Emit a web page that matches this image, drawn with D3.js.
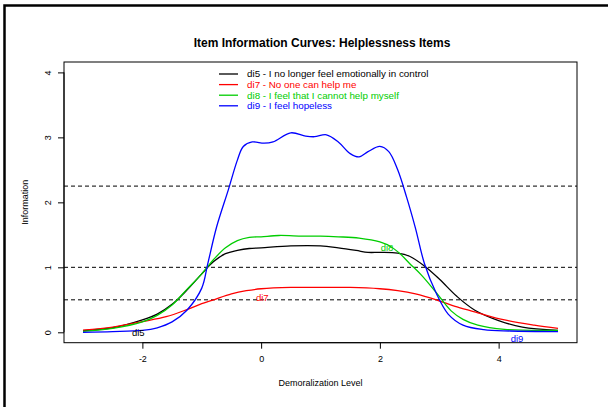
<!DOCTYPE html>
<html>
<head>
<meta charset="utf-8">
<script src="https://cdn.jsdelivr.net/npm/d3@7"></script>
<style>
  body { margin: 0; background: #fff; }
  svg { display: block; font-family: "Liberation Sans", Arial, sans-serif; }
</style>
</head>
<body>
<div id="chart"></div>
<script>
// theta / information pairs
const di5Theta = [-3, -2.5, -2, -1.75, -1.5, -1.25, -1.0, -0.8, -0.6, -0.4, -0.2, 0, 0.5, 1.0, 1.3, 1.6, 1.8, 2.0, 2.3, 2.5, 2.75, 3.0, 3.3, 3.6, 4.0, 4.4, 5];
const di5Info  = [0.025, 0.07, 0.19, 0.28, 0.43, 0.65, 0.9, 1.09, 1.21, 1.26, 1.29, 1.30, 1.33, 1.33, 1.30, 1.26, 1.23, 1.23, 1.22, 1.17, 1.02, 0.82, 0.55, 0.34, 0.18, 0.08, 0.03];

const di7Theta = [-3, -2.5, -2, -1.6, -1.25, -1.0, -0.8, -0.5, -0.25, 0, 0.5, 1.0, 1.5, 2.0, 2.3, 2.6, 2.95, 3.3, 3.65, 4.1, 4.6, 5];
const di7Info  = [0.035, 0.08, 0.165, 0.24, 0.35, 0.44, 0.5, 0.59, 0.64, 0.67, 0.69, 0.69, 0.69, 0.67, 0.64, 0.59, 0.5, 0.39, 0.3, 0.19, 0.11, 0.06];

const di8Theta = [-3, -2.5, -2, -1.75, -1.5, -1.25, -1.0, -0.8, -0.6, -0.4, -0.2, 0, 0.3, 0.7, 1.0, 1.3, 1.65, 2.0, 2.2, 2.35, 2.5, 2.7, 2.95, 3.2, 3.4, 3.65, 4.1, 5];
const di8Info  = [0.015, 0.06, 0.16, 0.26, 0.42, 0.66, 0.9, 1.12, 1.3, 1.41, 1.46, 1.47, 1.49, 1.48, 1.48, 1.47, 1.45, 1.39, 1.31, 1.20, 1.06, 0.88, 0.61, 0.33, 0.2, 0.11, 0.045, 0.03];

const di9Theta = [-3, -2.5, -2, -1.75, -1.5, -1.25, -1.0, -0.9, -0.75, -0.55, -0.4, -0.3, -0.15, 0.05, 0.2, 0.5, 0.75, 0.9, 1.1, 1.3, 1.5, 1.65, 1.8, 2.0, 2.15, 2.3, 2.45, 2.6, 2.75, 2.95, 3.15, 3.4, 3.75, 4.2, 5];
const di9Info  = [0.0, 0.01, 0.03, 0.07, 0.16, 0.34, 0.68, 1.05, 1.62, 2.2, 2.65, 2.86, 2.93, 2.91, 2.93, 3.07, 3.02, 3.01, 3.04, 2.93, 2.75, 2.70, 2.78, 2.86, 2.78, 2.5, 2.08, 1.6, 1.06, 0.6, 0.28, 0.11, 0.04, 0.02, 0.01];

const itemNames = ["di5", "di7", "di8", "di9"];
const legendLabels = [
  "di5 - I no longer feel emotionally in control",
  "di7 - No one can help me",
  "di8 - I feel that I cannot help myself",
  "di9 - I feel hopeless"
];
const itemColors = ["#000000", "#FF0000", "#00CD00", "#0000FF"];
// where each short curve label sits (theta, information)
const labelTheta = [-2.07, 0.02, 2.12, 4.31];
const labelInfo  = [0.0, 0.53, 1.30, -0.10];

const cutoffs = [0.5, 1, 2.25];
const xTicks = [-2, 0, 2, 4];
const yTicks = [0, 1, 2, 3, 4];

const W = 608, H = 407;
const plot = { left: 64, right: 577, top: 62, bottom: 342.7 };

const series = [
  d3.zip(di5Theta, di5Info),
  d3.zip(di7Theta, di7Info),
  d3.zip(di8Theta, di8Info),
  d3.zip(di9Theta, di9Info)
];

const svg = d3.select("#chart").append("svg")
    .attr("width", W)
    .attr("height", H);

svg.append("rect").attr("width", W).attr("height", H).attr("fill", "#fff");

// outer frame (only top & left show in the picture)
svg.append("path")
    .attr("d", `M4.5,${H} V5.5 H${W}`)
    .attr("fill", "none")
    .attr("stroke", "#000")
    .attr("stroke-width", 2.5);

// R style 4% padding on both axes
const x = d3.scaleLinear().domain([-3 - 0.32, 5 + 0.32]).range([plot.left, plot.right]);
const y = d3.scaleLinear().domain([-0.16, 4.16]).range([plot.bottom, plot.top]);

// cutoff lines
svg.selectAll(".cut")
    .data(cutoffs)
    .join("line")
    .attr("class", "cut")
    .attr("x1", plot.left).attr("x2", plot.right)
    .attr("y1", d => y(d)).attr("y2", d => y(d))
    .attr("stroke", "#000")
    .attr("stroke-width", 1)
    .attr("stroke-dasharray", "4,3");

const line = d3.line()
    .x(d => x(d[0]))
    .y(d => y(d[1]))
    .curve(d3.curveCatmullRom.alpha(0.5));

svg.selectAll(".curve")
    .data(series)
    .join("path")
    .attr("class", "curve")
    .attr("d", line)
    .attr("fill", "none")
    .attr("stroke", (d, i) => itemColors[i])
    .attr("stroke-width", 1.3);

// curve labels
svg.selectAll(".clab")
    .data(itemNames)
    .join("text")
    .attr("class", "clab")
    .attr("x", (d, i) => x(labelTheta[i]))
    .attr("y", (d, i) => y(labelInfo[i]))
    .attr("dy", "0.35em")
    .attr("text-anchor", "middle")
    .attr("font-size", 9.5)
    .attr("fill", (d, i) => itemColors[i])
    .text(d => d);

// box
svg.append("rect")
    .attr("x", plot.left).attr("y", plot.top)
    .attr("width", plot.right - plot.left)
    .attr("height", plot.bottom - plot.top)
    .attr("fill", "none")
    .attr("stroke", "#000")
    .attr("stroke-width", 1);

// x axis
const xAxis = svg.append("g")
    .attr("transform", `translate(0,${plot.bottom})`)
    .call(d3.axisBottom(x).tickValues(xTicks).tickSize(6).tickPadding(7).tickFormat(d => String(d)));
xAxis.select(".domain").attr("d", `M${x(-2)},0H${x(4)}`);
xAxis.selectAll("text").attr("font-size", 9).attr("font-family", "Liberation Sans, Arial, sans-serif");

// y axis, rotated labels like R
const yAxis = svg.append("g")
    .attr("transform", `translate(${plot.left},0)`)
    .call(d3.axisLeft(y).tickValues(yTicks).tickSize(6).tickFormat(d => String(d)));
yAxis.select(".domain").attr("d", `M0,${y(0)}V${y(4)}`);
yAxis.selectAll("text")
    .attr("x", 0).attr("dy", 0)
    .attr("text-anchor", "middle")
    .attr("font-size", 9)
    .attr("font-family", "Liberation Sans, Arial, sans-serif")
    .attr("transform", "translate(-13,0) rotate(-90)");

// title and axis titles
svg.append("text")
    .attr("x", 322).attr("y", 47)
    .attr("text-anchor", "middle")
    .attr("font-size", 12)
    .attr("font-weight", "bold")
    .text("Item Information Curves: Helplessness Items");

svg.append("text")
    .attr("x", (plot.left + plot.right) / 2).attr("y", 386)
    .attr("text-anchor", "middle")
    .attr("font-size", 9)
    .text("Demoralization Level");

svg.append("text")
    .attr("transform", `translate(28,${(plot.top + plot.bottom) / 2}) rotate(-90)`)
    .attr("text-anchor", "middle")
    .attr("font-size", 9)
    .text("Information");

// legend
const legend = svg.append("g").attr("transform", "translate(219,74)");
const rows = legend.selectAll("g")
    .data(legendLabels)
    .join("g")
    .attr("transform", (d, i) => `translate(0,${i * 10.6})`);
rows.append("line")
    .attr("x1", 0).attr("x2", 19)
    .attr("stroke", (d, i) => itemColors[i])
    .attr("stroke-width", 1.3);
rows.append("text")
    .attr("x", 28)
    .attr("dy", "0.35em")
    .attr("font-size", 9.8)
    .attr("fill", (d, i) => itemColors[i])
    .text(d => d);
</script>
</body>
</html>
